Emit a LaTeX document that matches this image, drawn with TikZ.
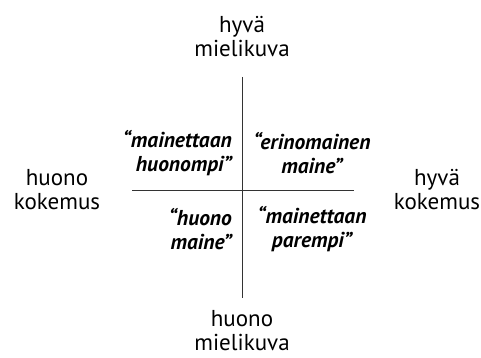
\documentclass[tikz,border=0pt]{standalone}
\usepackage{fontspec}
\setmainfont{PT Sans}
\begin{document}
\begin{tikzpicture}[x=1pt,y=-1pt,
  axis/.style={draw, line width=0.9pt, black!80},
  pole/.style={font=\fontsize{23}{24}\selectfont, align=center, inner sep=0pt},
  quad/.style={font=\fontsize{21.5}{23.5}\selectfont\bfseries\itshape, inner sep=0pt}]
\useasboundingbox (0,0) rectangle (481,358);
\coordinate (vt) at (242,77);
\coordinate (vb) at (242,298);
\coordinate (hl) at (132,190);
\coordinate (hr) at (354,190);
\draw[axis] (vt) -- (vb);
\draw[axis] (hl) -- (hr);
\node[pole] (top) at (242,37) {hyvä\\mielikuva};
\node[pole] (bot) at (242,331) {huono\\mielikuva};
\node[pole] (left) at (57,190) {huono\\kokemus};
\node[pole] (right) at (437,190) {hyvä\\kokemus};
\node[quad, align=right, anchor=east] (ul) at (232,153) {“mainettaan\\huonompi”};
\node[quad, align=center] (ur) at (312,153) {“erinomainen\\maine”};
\node[quad, align=right, anchor=east] (ll) at (232,229) {“huono\\maine”};
\node[quad, align=center] (lr) at (312,229) {“mainettaan\\parempi”};
\end{tikzpicture}
\end{document}
